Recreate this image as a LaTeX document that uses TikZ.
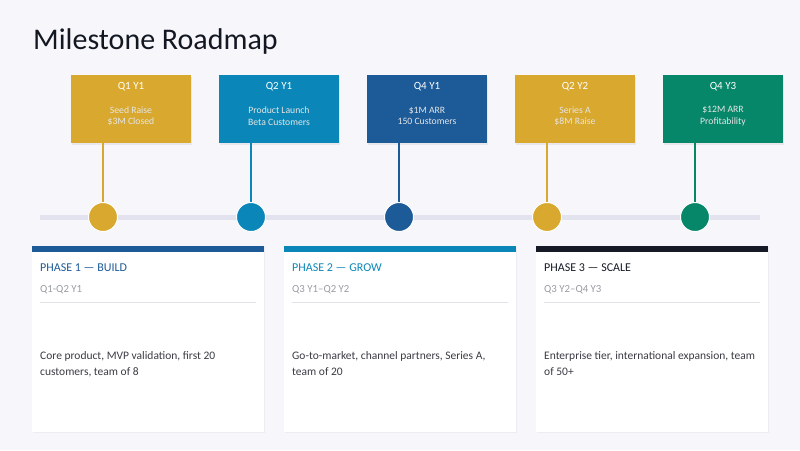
\documentclass[tikz,border=0pt]{standalone}
\usepackage{fontspec}
\setmainfont{Carlito}
\usetikzlibrary{shadows}
\definecolor{bgc}{HTML}{F7F7FB}
\definecolor{gold}{HTML}{D9A92F}
\definecolor{teal}{HTML}{0A87B8}
\definecolor{navy}{HTML}{1C5A98}
\definecolor{green}{HTML}{07876A}
\definecolor{ink}{HTML}{151A26}
\definecolor{trackc}{HTML}{E2E3EE}
\definecolor{greytxt}{HTML}{9A9CA4}
\definecolor{bodytxt}{HTML}{3A3C44}
\definecolor{rulec}{HTML}{E1E2E8}
\tikzset{
  msbox/.style={minimum width=120pt, minimum height=68pt, inner sep=0pt, drop shadow={opacity=0.12, shadow xshift=1pt, shadow yshift=-1.5pt}},
  mstitle/.style={text=white, font=\fontsize{11}{13}\selectfont},
  mstext/.style={text=white!90!black, font=\fontsize{9.7}{12}\selectfont, align=center},
  dot/.style={circle, minimum size=29pt, inner sep=0pt, draw=white, line width=1pt},
  stem/.style={line width=1.2pt},
  card/.style={fill=white, minimum width=232pt, minimum height=186pt, inner sep=0pt, anchor=north west, drop shadow={opacity=0.08, shadow xshift=0.5pt, shadow yshift=-1pt}},
  phase/.style={anchor=west, inner sep=0pt, font=\fontsize{12}{14}\selectfont},
  sub/.style={anchor=west, inner sep=0pt, text=greytxt, font=\fontsize{10.8}{13}\selectfont},
  desc/.style={anchor=north west, text=bodytxt, font=\fontsize{11.5}{16}\selectfont, align=left, inner sep=0pt}
}
\begin{document}
\begin{tikzpicture}[x=1pt,y=-1pt]
\useasboundingbox (0,0) rectangle (800,450);
\fill[bgc] (0,0) rectangle (800,450);
\node[anchor=base west, inner sep=0pt, text=ink!90!black, font=\fontsize{30}{34}\selectfont] (title) at (33,49) {Milestone Roadmap};

% track
\coordinate (tl) at (40,217);
\coordinate (tr) at (760,217);
\draw[trackc, line width=5pt] (tl) -- (tr);

% milestone boxes
\foreach \i/\x/\c/\t/\a/\b in {1/103/gold/Q1 Y1/Seed Raise/\$3M Closed,
                               2/251/teal/Q2 Y1/Product Launch/Beta Customers,
                               3/399/navy/Q4 Y1/\$1M ARR/150 Customers,
                               4/547/gold/Q2 Y2/Series A/\$8M Raise,
                               5/695/green/Q4 Y3/\$12M ARR/Profitability}{
  \node[msbox, fill=\c] (m\i) at (\x+28,109) {};
  \node[mstitle] (mt\i) at (\x+28,87) {\t};
  \node[mstext] (ms\i) at (\x+28,116) {\a\\[-0.5pt]\b};
  \coordinate (s\i) at (\x,143);
  \node[dot, fill=\c] (d\i) at (\x,217) {};
  \draw[stem, \c] (s\i) -- (d\i.north);
}

% cards
\foreach \i/\x/\c/\tc/\p/\q/\d in {1/32/navy/navy/PHASE 1 — BUILD/Q1-Q2 Y1/{Core product, MVP validation, first 20\\customers, team of 8},
                                   2/284/teal/teal/PHASE 2 — GROW/Q3 Y1–Q2 Y2/{Go-to-market, channel partners, Series A,\\team of 20},
                                   3/536/ink/ink/PHASE 3 — SCALE/Q3 Y2–Q4 Y3/{Enterprise tier, international expansion, team\\of 50+}}{
  \node[card] (c\i) at (\x,246) {};
  \fill[\c] (c\i.north west) rectangle ([yshift=-6pt]c\i.north east);
  \node[phase, text=\tc] (p\i) at (\x+8,268) {\p};
  \node[sub] (q\i) at (\x+8,290) {\q};
  \coordinate (ra\i) at (\x+8,302);
  \coordinate (rb\i) at (\x+224,302);
  \draw[rulec, line width=0.8pt] (ra\i) -- (rb\i);
  \node[desc] (e\i) at (\x+8,351) {\d};
}
\end{tikzpicture}
\end{document}
